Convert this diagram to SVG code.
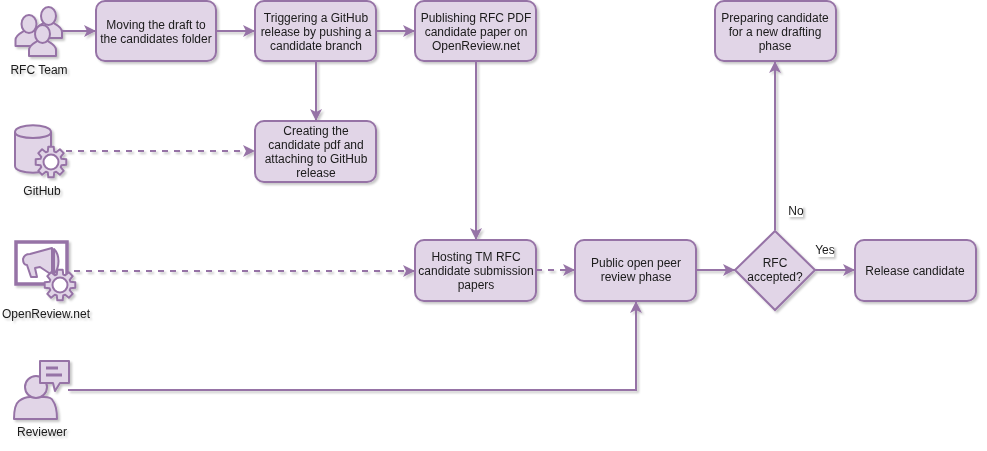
<svg xmlns="http://www.w3.org/2000/svg" width="987" height="451" viewBox="0 0 987 451">
<style>
text{font-family:"Liberation Sans",Arial,sans-serif;font-size:12px;fill:#1a1a1a;text-anchor:middle}
.b{fill:#e1d5e7;stroke:#9673a6;stroke-width:2}
.i{fill:#e1d5e7;stroke:#9673a6;stroke-width:2;stroke-linejoin:round}
.w{fill:#fff;stroke:#9673a6;stroke-width:2}
.c{fill:none;stroke:#9673a6;stroke-width:2}
.d{stroke-dasharray:6 6}
.l{fill:#fff}
</style>
<defs>
<filter id="s" x="-5%" y="-5%" width="110%" height="110%"><feDropShadow dx="2" dy="2" stdDeviation="1.2" flood-color="#000" flood-opacity="0.22"/></filter>
<marker id="a" markerUnits="userSpaceOnUse" markerWidth="14" markerHeight="14" refX="12" refY="7" orient="auto"><path d="M0 1 L12 7 L0 13 L3 7Z" fill="#9673a6"/></marker>
<g id="gear"><path class="i" d="M-3.2 -10.5L-2.7 -15.3L2.7 -15.3L3.2 -10.5L5.16 -9.69L8.91 -12.73L12.73 -8.91L9.69 -5.16L10.5 -3.2L15.3 -2.7L15.3 2.7L10.5 3.2L9.69 5.16L12.73 8.91L8.91 12.73L5.16 9.69L3.2 10.5L2.7 15.3L-2.7 15.3L-3.2 10.5L-5.16 9.69L-8.91 12.73L-12.73 8.91L-9.69 5.16L-10.5 3.2L-15.3 2.7L-15.3 -2.7L-10.5 -3.2L-9.69 -5.16L-12.73 -8.91L-8.91 -12.73L-5.16 -9.69Z"/><circle r="7.5" class="w"/></g>
<g id="person"><path class="i" d="M-13.5 22V16C-13.5 11 -8 9 -5 7H5C8 9 13.5 11 13.5 16V22Z"/><ellipse class="i" cx="0" cy="0" rx="7.5" ry="9"/></g>
</defs>
<g filter="url(#s)">
<g id="connectors">
<path class="c" marker-end="url(#a)" d="M62 31H96"/>
<path class="c" marker-end="url(#a)" d="M216 31H255"/>
<path class="c" marker-end="url(#a)" d="M376 31H415"/>
<path class="c" marker-end="url(#a)" d="M316 61V121"/>
<path class="c d" marker-end="url(#a)" d="M66 151H255"/>
<path class="c" marker-end="url(#a)" d="M476 61V240"/>
<path class="c d" marker-end="url(#a)" d="M74 271H415"/>
<path class="c d" marker-end="url(#a)" d="M536 270H575"/>
<path class="c" marker-end="url(#a)" d="M696 270H735"/>
<path class="c" marker-end="url(#a)" d="M815 270H855"/>
<path class="c" marker-end="url(#a)" d="M775 230V61"/>
<path class="c" marker-end="url(#a)" d="M68 390H636V301"/>
</g>
<g id="rfc-team">
<use href="#person" x="48.5" y="16"/>
<use href="#person" x="29" y="24"/>
<use href="#person" x="42.5" y="34"/>
<text x="39" y="74">RFC Team</text>
</g>
<g id="moving"><rect class="b" x="96" y="1" width="120" height="60" rx="9"/><text x="156" y="29">Moving the draft to</text><text x="156" y="43">the candidates folder</text></g>
<g id="trigger"><rect class="b" x="255" y="1" width="121" height="60" rx="9"/><text x="316" y="22">Triggering a GitHub</text><text x="316" y="36">release by pushing a</text><text x="316" y="50">candidate branch</text></g>
<g id="publish"><rect class="b" x="415" y="1" width="121" height="60" rx="9"/><text x="476" y="22">Publishing RFC PDF</text><text x="476" y="36">candidate paper on</text><text x="476" y="50">OpenReview.net</text></g>
<g id="prepare"><rect class="b" x="715" y="1" width="121" height="60" rx="9"/><text x="775" y="22">Preparing candidate</text><text x="775" y="36">for a new drafting</text><text x="775" y="50">phase</text></g>
<g id="github">
<path class="i" d="M15 132C15 123 51 123 51 132V166C51 175 15 175 15 166Z"/><path class="c" d="M15 132C15 140 51 140 51 132"/>
<use href="#gear" x="51" y="162"/>
<text x="42" y="195">GitHub</text>
</g>
<g id="create"><rect class="b" x="255" y="121" width="121" height="61" rx="9"/><text x="316" y="135">Creating the</text><text x="316" y="149">candidate pdf and</text><text x="316" y="163">attaching to GitHub</text><text x="316" y="177">release</text></g>
<g id="openreview">
<rect x="16" y="242" width="51" height="42" fill="#fff" stroke="#9673a6" stroke-width="3.5"/>
<path class="i" d="M23 259C24 255 26 254 30 254L52 248V275L40 267L35 268L37 277L31 277L27 265C24 265 23 262 23 259Z"/>
<path class="i" d="M54 249C60 255 60 267 54 274Z"/>
<use href="#gear" x="60" y="285"/>
<text x="46" y="318">OpenReview.net</text>
</g>
<g id="host"><rect class="b" x="415" y="240" width="121" height="61" rx="9"/><text x="476" y="261">Hosting TM RFC</text><text x="476" y="275">candidate submission</text><text x="476" y="289">papers</text></g>
<g id="public"><rect class="b" x="575" y="240" width="121" height="61" rx="9"/><text x="636" y="267">Public open peer</text><text x="636" y="281">review phase</text></g>
<g id="decision"><path class="b" d="M775 231L815 270L775 310L735 270Z"/><text x="775" y="267">RFC</text><text x="775" y="281">accepted?</text></g>
<g id="release"><rect class="b" x="855" y="240" width="121" height="61" rx="9"/><text x="915" y="275">Release candidate</text></g>
<g id="reviewer">
<path class="i" d="M14 419C14 410 15 404 19 401C23 398 27 397 30 397H44C48 397 52 398 53 401C56 405 57 411 57 419Z"/>
<circle class="i" cx="36" cy="387" r="11"/>
<path class="i" d="M40 361H69V383H60L55 391L53 383H40Z"/>
<path d="M46 368H58M46 375H62" fill="none" stroke="#9673a6" stroke-width="3"/>
<text x="42" y="436">Reviewer</text>
</g>
<g id="labels">
<rect class="l" x="788" y="206" width="15" height="11"/><text x="796" y="215">No</text>
<rect class="l" x="817" y="246" width="17" height="11"/><text x="825" y="254">Yes</text>
</g>
</g>
</svg>
